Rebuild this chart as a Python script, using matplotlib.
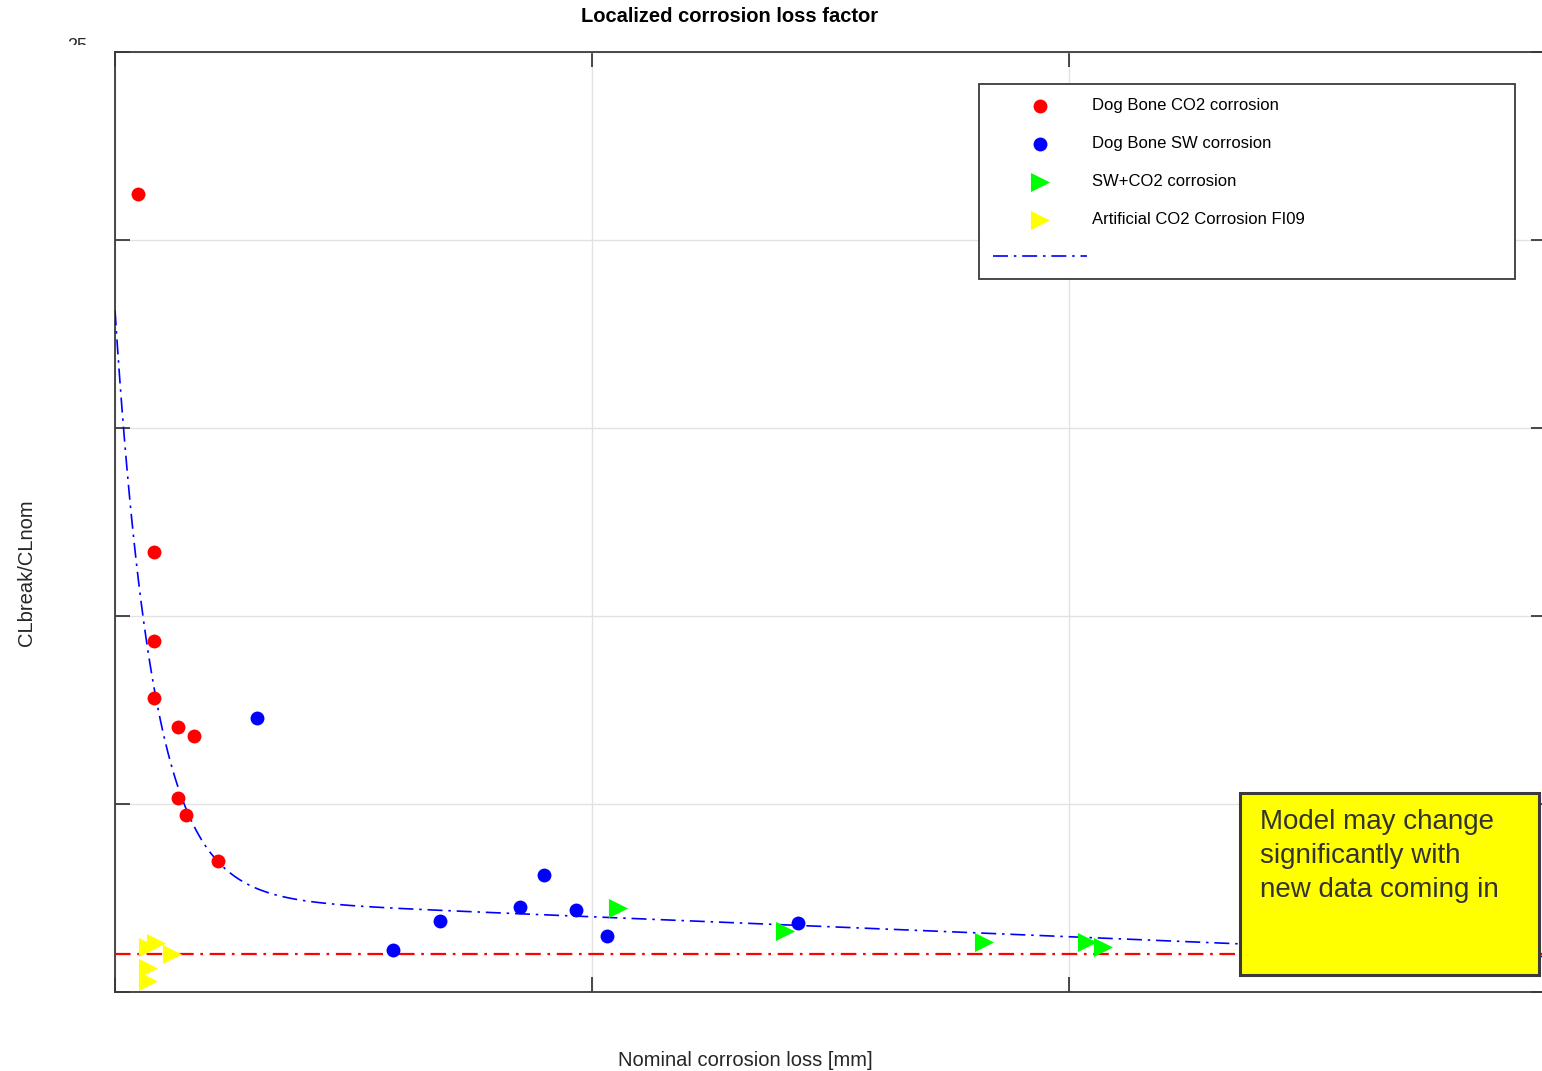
import numpy as np
import matplotlib
matplotlib.use("Agg")
import matplotlib.pyplot as plt
from matplotlib.lines import Line2D
from matplotlib.patches import Rectangle
from matplotlib.transforms import Bbox

plt.rcParams["font.family"] = ["Liberation Sans", "DejaVu Sans"]

# Dog bone specimens, CO2 corrosion
co2_x = [0.048, 0.082, 0.082, 0.082, 0.132, 0.166, 0.132, 0.149, 0.216]
co2_y = [21.22, 11.70, 9.34, 7.82, 7.05, 6.81, 5.16, 4.71, 3.48]

# Dog bone specimens, sea water corrosion
sw_x = [0.298, 0.583, 0.681, 0.849, 0.899, 0.966, 1.031, 1.432]
sw_y = [7.29, 1.12, 1.89, 2.26, 3.11, 2.18, 1.49, 1.84]

# Sea water + CO2 corrosion
swco2_x = [1.054, 1.405, 1.822, 2.038, 2.071]
swco2_y = [2.23, 1.62, 1.33, 1.33, 1.20]

# Artificial CO2 corrosion, FI09
art_x = [0.069, 0.086, 0.119, 0.069, 0.069]
art_y = [1.20, 1.30, 1.01, 0.64, 0.29]

# Fitted loss-factor model: a*exp(-b*x) + c - d*x
fit_a, fit_b, fit_c, fit_d = 15.6, 12.5, 2.53, 0.53
baseline = 1.0

x_ticks = [0, 1, 2, 3]
y_ticks = [0, 5, 10, 15, 20, 25]

W, H = 1542, 1071
fig = plt.figure(figsize=(W / 100, H / 100), dpi=100)
ax = fig.add_axes([115 / W, (H - 992) / H, 1431 / W, 940 / H])

edge = "#3a3a3a"
ax.set_xlim(0, 3)
ax.set_ylim(0, 25)
ax.set_xticks(x_ticks)
ax.set_yticks(y_ticks)
ax.set_xticklabels([])
ax.set_yticklabels([])
ax.grid(True, color="#e2e2e2", lw=1.0, zorder=0)
ax.set_axisbelow(True)
ax.tick_params(direction="in", length=11, width=1.3, color=edge,
               top=True, right=True)
for s in ax.spines.values():
    s.set_color(edge)
    s.set_linewidth(1.3)

dashdot = (0, (9, 3.5, 1.5, 3.5))
xf = np.linspace(0, 3, 600)
yf = fit_a * np.exp(-fit_b * xf) + fit_c - fit_d * xf
ax.plot(xf, yf, color="blue", lw=1.2, linestyle=dashdot, zorder=3)
ax.axhline(baseline, color="red", lw=1.6,
           linestyle=(0, (7, 3, 1.2, 3)), zorder=3)

ms_circ = 100
ms_tri = 190
h1 = ax.scatter(co2_x, co2_y, s=ms_circ, marker="o", color="red", lw=0, zorder=4)
h2 = ax.scatter(sw_x, sw_y, s=ms_circ, marker="o", color="blue", lw=0, zorder=4)
h3 = ax.scatter(swco2_x, swco2_y, s=ms_tri, marker=">", color="#00ff00", lw=0, zorder=4)
h4 = ax.scatter(art_x, art_y, s=ms_tri, marker=">", color="yellow", lw=0, zorder=4)

leg_line = Line2D([], [], color="blue", lw=1.2, linestyle=dashdot)
leg = ax.legend([h1, h2, h3, h4, leg_line],
                ["Dog Bone CO2 corrosion", "Dog Bone SW corrosion",
                 "SW+CO2 corrosion", "Artificial CO2 Corrosion FI09", ""],
                loc="upper left", bbox_to_anchor=(0.6038, 0.7553, 0.3745, 0.2107),
                mode="expand", fontsize=12, handlelength=5.6, handletextpad=0.35,
                labelspacing=1.38, borderpad=0.85, borderaxespad=0,
                fancybox=False, framealpha=1, edgecolor=edge)
leg.get_frame().set_linewidth(1.3)

# note box
ax.add_patch(Rectangle((0.7862, 0.0181), 0.2089, 0.1936, transform=ax.transAxes,
                       facecolor="yellow", edgecolor=edge, lw=2.2, zorder=6,
                       clip_on=False))
ax.text(0.8001, 0.195, "Model may change\nsignificantly with\nnew data coming in",
        transform=ax.transAxes, fontsize=20, color="#333333", va="top",
        ha="left", linespacing=1.4, zorder=7)

fig.text(730 / W, 1 - 17 / H, "Localized corrosion loss factor",
         ha="center", va="center", fontsize=14.5, fontweight="bold")
fig.text(745 / W, 1 - 1060 / H, "Nominal corrosion loss [mm]",
         ha="center", va="center", fontsize=14.5, color="#262626")
fig.text(27 / W, 1 - 573 / H, "CLbreak/CLnom", rotation=90,
         ha="center", va="center", fontsize=14.5, color="#262626")

t25 = fig.text(77 / W, 1 - 38 / H, "25", ha="center", va="top",
               fontsize=13, color="#262626")
t25.set_clip_box(Bbox([[0, H - 45], [W, H]]))
t25.set_clip_on(True)

fig.savefig("out.png", dpi=100)
